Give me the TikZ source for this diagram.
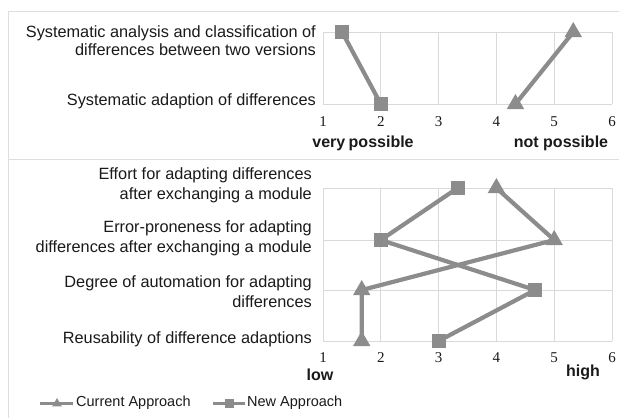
\documentclass[tikz,border=0pt]{standalone}
\usepackage{fontspec}
\setmainfont{Liberation Sans}
\newfontfamily\numfont{Liberation Serif}
\usetikzlibrary{shapes.geometric}
\definecolor{series}{HTML}{8C8C8C}
\definecolor{gridc}{HTML}{D9D9D9}
\definecolor{framec}{HTML}{DEDEDE}
\definecolor{ink}{HTML}{1A1A1A}

\begin{document}
\begin{tikzpicture}[x=1pt,y=-1pt,
  sqmark/.style={rectangle, fill=series, minimum size=14pt, inner sep=0pt},
  trimark/.style={regular polygon, regular polygon sides=3, fill=series, minimum size=20pt, inner sep=0pt},
  serie/.style={draw=series, line width=4.2pt},
  gridline/.style={draw=gridc, line width=1pt},
  lbl/.style={font=\fontsize{16.3}{18}\selectfont, text=ink, align=right, anchor=east, inner sep=0pt},
  lbltwo/.style={lbl, font=\fontsize{16.3}{20}\selectfont},
  ticklbl/.style={font=\numfont\fontsize{15}{15}\selectfont, text=ink, inner sep=0pt},
  pole/.style={font=\bfseries\fontsize{16}{16}\selectfont, text=ink, inner sep=0pt},
  legtext/.style={font=\fontsize{14.5}{14.5}\selectfont, text=ink, anchor=west, inner sep=0pt}
]
\useasboundingbox (0,0) rectangle (619,418);
\fill[white] (0,0) rectangle (619,418);

% outer frame and separator between the two charts
\draw[framec, line width=1pt] (619,11) -- (8,11) -- (8,418);
\draw[framec, line width=1pt] (8,159) -- (619,159);

% ---------- upper chart ----------
\node[lbl] (qa) at (316,41) {Systematic analysis and classification of\\differences between two versions};
\node[lbl] (qb) at (316,101) {Systematic adaption of differences};

\begin{scope}[x=57.8pt, xshift=265.2pt]
  \foreach \v in {2,...,6} \draw[gridline] (\v,32) -- (\v,104);
  \foreach \r in {32,104} \draw[gridline] (1,\r) -- (6,\r);
  \draw[gridline] (1,32) -- (1,104);
  \foreach \v in {1,...,6} \node[ticklbl] (ta\v) at (\v,122) {\v};

  \coordinate (an1) at (1.33,32);
  \coordinate (an2) at (2,104);
  \coordinate (ac1) at (5.33,32);
  \coordinate (ac2) at (4.33,104);
  \draw[serie] (an1) -- (an2);
  \draw[serie] (ac1) -- (ac2);
  \node[sqmark] (man1) at (an1) {};
  \node[sqmark] (man2) at (an2) {};
  \node[trimark] (mac1) at (ac1) {};
  \node[trimark] (mac2) at (ac2) {};
\end{scope}

\node[pole] (vp) at (363,143) {very\hspace{-1pt} possible};
\node[pole] (np) at (561,143) {not possible};

% ---------- lower chart ----------
\node[lbltwo] (qc) at (312,185) {Effort for adapting differences\\after exchanging a module};
\node[lbltwo] (qd) at (312,238) {Error-proneness for adapting\\differences after exchanging a module};
\node[lbltwo] (qe) at (312,292) {Degree of automation for adapting\\differences};
\node[lbl] (qf) at (312,339) {Reusability of difference adaptions};

\begin{scope}[x=57.8pt, xshift=265.2pt]
  \foreach \v in {2,...,6} \draw[gridline] (\v,188) -- (\v,341);
  \foreach \r in {188,240,290,341} \draw[gridline] (1,\r) -- (6,\r);
  \draw[gridline] (1,188) -- (1,341);
  \foreach \v in {1,...,6} \node[ticklbl] (tb\v) at (\v,358) {\v};

  \coordinate (bn1) at (3.33,188);
  \coordinate (bn2) at (2,240);
  \coordinate (bn3) at (4.67,290);
  \coordinate (bn4) at (3,341);
  \coordinate (bc1) at (4,188);
  \coordinate (bc2) at (5,240);
  \coordinate (bc3) at (1.67,290);
  \coordinate (bc4) at (1.67,341);
  \draw[serie] (bc1) -- (bc2) -- (bc3) -- (bc4);
  \draw[serie] (bn1) -- (bn2) -- (bn3) -- (bn4);
  \foreach \i in {1,...,4} {
    \node[trimark] (mbc\i) at (bc\i) {};
    \node[sqmark] (mbn\i) at (bn\i) {};
  }
\end{scope}

\node[pole] (lo) at (320,375) {low};
\node[pole] (hi) at (583,372) {high};

% ---------- legend ----------
\coordinate (la) at (40,403);
\coordinate (lb) at (73,403);
\draw[serie, line width=3pt] (la) -- (lb);
\node[trimark, minimum size=11pt] (lm1) at (57,403.5) {};
\node[legtext] (lt1) at (76,403) {Current Approach};

\coordinate (lc) at (213,403);
\coordinate (ld) at (245,403);
\draw[serie, line width=3pt] (lc) -- (ld);
\node[sqmark, minimum size=9pt] (lm2) at (229,403) {};
\node[legtext] (lt2) at (247,403) {New Approach};
\end{tikzpicture}
\end{document}
